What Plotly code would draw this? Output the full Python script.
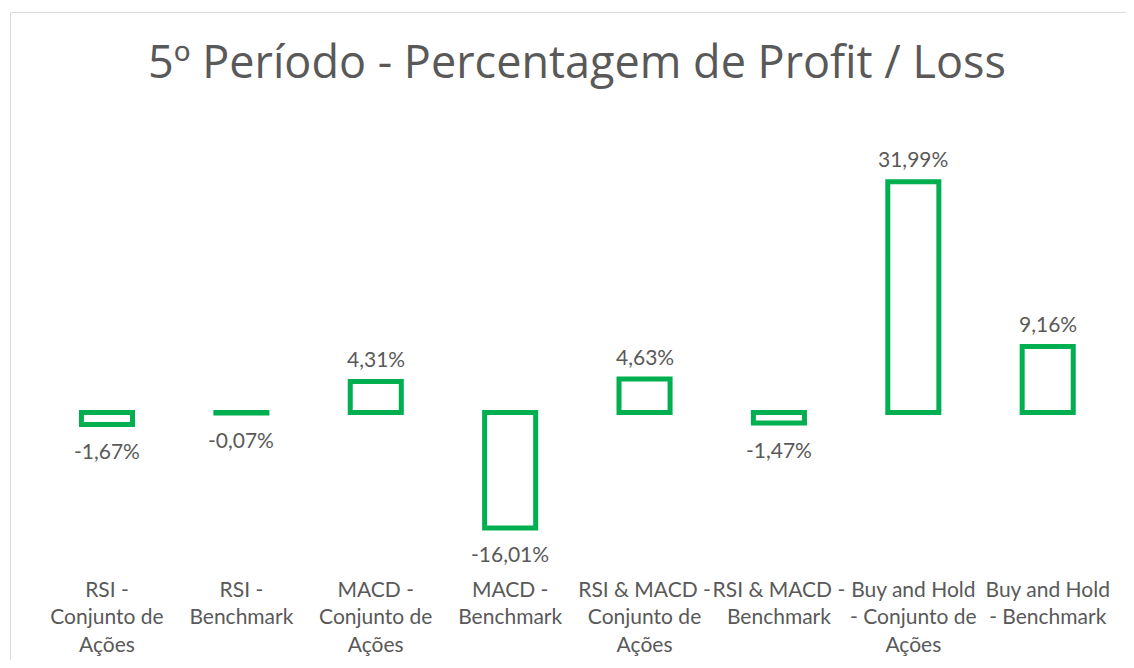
import plotly.graph_objects as go

categories = [
    "RSI -<br>Conjunto de<br>Ações",
    "RSI -<br>Benchmark",
    "MACD -<br>Conjunto de<br>Ações",
    "MACD -<br>Benchmark",
    "RSI & MACD -<br>Conjunto de<br>Ações",
    "RSI & MACD -<br>Benchmark",
    "Buy and Hold<br>- Conjunto de<br>Ações",
    "Buy and Hold<br>- Benchmark",
]
values = [-1.67, -0.07, 4.31, -16.01, 4.63, -1.47, 31.99, 9.16]
labels = ["-1,67%", "-0,07%", "4,31%", "-16,01%", "4,63%", "-1,47%", "31,99%", "9,16%"]

OFF = 8  # default page body margin
W, H = 1134 - 2 * OFF, 668 - 2 * OFF
TXT = "#595959"
GREEN = "#00B050"


def fx(px):
    return (px - OFF) / W


def fy(py):
    return 1 - (py - OFF) / H


# plot area in screen pixels
px_left, px_right = 39.8, 1114.9
px_top, px_bottom = 130, 575
zero_px = 412.5
ppu = 7.21  # pixels per percentage unit
ymax = (zero_px - px_top) / ppu
ymin = -(px_bottom - zero_px) / ppu

fig = go.Figure()
fig.add_trace(go.Bar(
    x=list(range(len(categories))),
    y=values,
    width=0.38,
    marker=dict(color="white", line=dict(color=GREEN, width=5)),
    hoverinfo="skip",
))

for i, (v, t) in enumerate(zip(values, labels)):
    fig.add_annotation(
        x=i, y=v, text=t, showarrow=False,
        yanchor="middle", xanchor="center",
        yshift=23 if v >= 0 else -26,
        font=dict(family="Lato, Open Sans, sans-serif", size=21, color=TXT),
    )

fig.update_layout(
    width=W, height=H,
    margin=dict(l=0, r=0, t=0, b=0),
    paper_bgcolor="white", plot_bgcolor="white",
    showlegend=False,
    title=dict(
        text="5º Período - Percentagem de Profit / Loss",
        x=fx(577), xanchor="center", y=fy(62.5), yanchor="middle",
        font=dict(family="Open Sans, sans-serif", size=45, color=TXT),
    ),
    xaxis=dict(
        domain=[fx(px_left), fx(px_right)],
        range=[-0.5, len(categories) - 0.5],
        tickmode="array",
        tickvals=list(range(len(categories))),
        ticktext=categories,
        tickangle=0,
        tickfont=dict(family="Lato, Open Sans, sans-serif", size=21, color=TXT),
        showgrid=False, zeroline=False, showline=False, ticks="",
        automargin=False,
    ),
    yaxis=dict(
        domain=[fy(px_bottom), fy(px_top)],
        range=[ymin, ymax],
        showgrid=False, zeroline=False, showline=False,
        showticklabels=False, ticks="",
        automargin=False,
    ),
    shapes=[dict(
        type="rect", xref="paper", yref="paper",
        x0=fx(10.5), x1=1.05, y0=-0.05, y1=fy(12.5),
        line=dict(color="#D9D9D9", width=1), fillcolor="rgba(0,0,0,0)",
        layer="below",
    )],
)

fig.write_html("out.html")
